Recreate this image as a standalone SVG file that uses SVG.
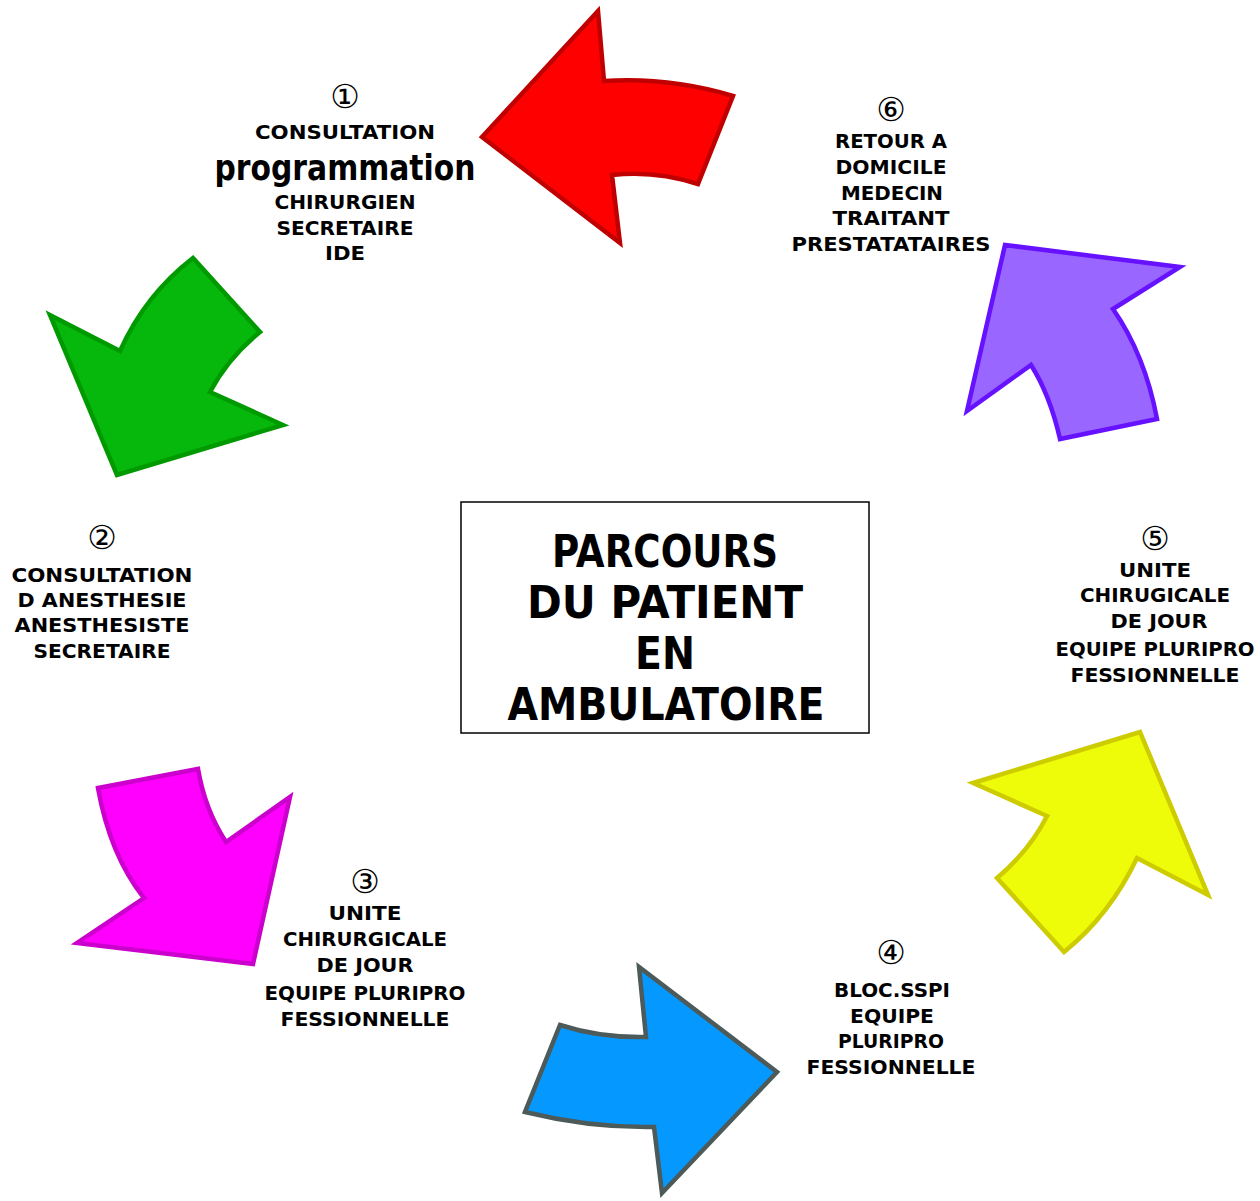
<svg xmlns="http://www.w3.org/2000/svg" width="1260" height="1201" viewBox="0 0 1260 1201">
<style>
.t{font-family:"DejaVu Sans","Liberation Sans",sans-serif;font-weight:bold;font-size:20px;fill:#000;text-anchor:middle}
.n{font-family:"DejaVu Sans",sans-serif;font-size:33px;fill:#000;text-anchor:middle}
.c{font-family:"DejaVu Sans","Liberation Sans",sans-serif;font-weight:bold;font-size:45px;fill:#000;text-anchor:middle}
.p{font-family:"DejaVu Sans","Liberation Sans",sans-serif;font-weight:bold;font-size:35px;fill:#000;text-anchor:middle}
.a{stroke-width:4.5;stroke-linejoin:miter;stroke-miterlimit:6}
</style>
<rect width="1260" height="1201" fill="#fff"/>
<g id="connectors">
<path id="arrow-red" class="a" fill="#ff0000" stroke="#c00000" d="M482,137 L598,11 L604,81 Q670,77 733,96 L698,184 Q655,170 612,175 L620,243 Z"/>
<path id="arrow-green" class="a" fill="#05b80b" stroke="#009900" d="M193,258 L260,332 Q228,358 210,392 L283,425 L117,475 L50,315 L120,351 Q145,295 193,258 Z"/>
<path id="arrow-magenta" class="a" fill="#ff00ff" stroke="#cc00cc" d="M98,788 L198,769 Q205,810 226,842 L290,797 L253,964 L77,943 L144,898 Q110,855 98,788 Z"/>
<path id="arrow-blue" class="a" fill="#0599ff" stroke="#4d5a5a" d="M560,1025 Q600,1038 646,1037 L639,967 L777,1072 L662,1193 L654,1127 Q590,1128 525,1112 Z"/>
<path id="arrow-yellow" class="a" fill="#eefc0a" stroke="#cccc00" d="M973,783 L1140,732 L1208,895 L1137,858 Q1110,915 1064,952 L997,878 Q1030,850 1047,816 Z"/>
<path id="arrow-purple" class="a" fill="#9966ff" stroke="#6611ff" d="M1005,245 L1180,267 L1113,309 Q1145,355 1157,419 L1060,439 Q1050,395 1031,365 L967,411 Z"/>
</g>
<g id="center">
<rect x="461" y="502" width="408" height="231" fill="#fff" stroke="#000" stroke-width="1.5"/>
<text class="c" x="665" y="567" textLength="226" lengthAdjust="spacingAndGlyphs">PARCOURS</text>
<text class="c" x="665" y="618" textLength="276" lengthAdjust="spacingAndGlyphs">DU PATIENT</text>
<text class="c" x="665" y="669" textLength="60" lengthAdjust="spacingAndGlyphs">EN</text>
<text class="c" x="666" y="720" textLength="317" lengthAdjust="spacingAndGlyphs">AMBULATOIRE</text>
</g>
<g id="step1">
<text class="n" x="345" y="108">①</text>
<text class="t" x="345" y="139" textLength="180" lengthAdjust="spacingAndGlyphs">CONSULTATION</text>
<text class="p" x="345" y="180" textLength="261" lengthAdjust="spacingAndGlyphs">programmation</text>
<text class="t" x="345" y="209" textLength="141" lengthAdjust="spacingAndGlyphs">CHIRURGIEN</text>
<text class="t" x="345" y="235" textLength="137" lengthAdjust="spacingAndGlyphs">SECRETAIRE</text>
<text class="t" x="345" y="260" textLength="40" lengthAdjust="spacingAndGlyphs">IDE</text>
</g>
<g id="step2">
<text class="n" x="102" y="549">②</text>
<text class="t" x="102" y="582" textLength="181" lengthAdjust="spacingAndGlyphs">CONSULTATION</text>
<text class="t" x="102" y="607" textLength="169" lengthAdjust="spacingAndGlyphs">D ANESTHESIE</text>
<text class="t" x="102" y="632" textLength="175" lengthAdjust="spacingAndGlyphs">ANESTHESISTE</text>
<text class="t" x="102" y="658" textLength="137" lengthAdjust="spacingAndGlyphs">SECRETAIRE</text>
</g>
<g id="step3">
<text class="n" x="365" y="893">③</text>
<text class="t" x="365" y="920" textLength="73" lengthAdjust="spacingAndGlyphs">UNITE</text>
<text class="t" x="365" y="946" textLength="164" lengthAdjust="spacingAndGlyphs">CHIRURGICALE</text>
<text class="t" x="365" y="972" textLength="97" lengthAdjust="spacingAndGlyphs">DE JOUR</text>
<text class="t" x="365" y="1000" textLength="201" lengthAdjust="spacingAndGlyphs">EQUIPE PLURIPRO</text>
<text class="t" x="365" y="1026" textLength="169" lengthAdjust="spacingAndGlyphs">FESSIONNELLE</text>
</g>
<g id="step4">
<text class="n" x="891" y="964">④</text>
<text class="t" x="892" y="997" textLength="116" lengthAdjust="spacingAndGlyphs">BLOC.SSPI</text>
<text class="t" x="892" y="1023" textLength="84" lengthAdjust="spacingAndGlyphs">EQUIPE</text>
<text class="t" x="891" y="1048" textLength="106" lengthAdjust="spacingAndGlyphs">PLURIPRO</text>
<text class="t" x="891" y="1074" textLength="169" lengthAdjust="spacingAndGlyphs">FESSIONNELLE</text>
</g>
<g id="step5">
<text class="n" x="1155" y="550">⑤</text>
<text class="t" x="1155" y="577" textLength="72" lengthAdjust="spacingAndGlyphs">UNITE</text>
<text class="t" x="1155" y="602" textLength="150" lengthAdjust="spacingAndGlyphs">CHIRUGICALE</text>
<text class="t" x="1159" y="628" textLength="97" lengthAdjust="spacingAndGlyphs">DE JOUR</text>
<text class="t" x="1155" y="656" textLength="199" lengthAdjust="spacingAndGlyphs">EQUIPE PLURIPRO</text>
<text class="t" x="1155" y="682" textLength="169" lengthAdjust="spacingAndGlyphs">FESSIONNELLE</text>
</g>
<g id="step6">
<text class="n" x="891" y="121">⑥</text>
<text class="t" x="891" y="148" textLength="112" lengthAdjust="spacingAndGlyphs">RETOUR A</text>
<text class="t" x="891" y="174" textLength="111" lengthAdjust="spacingAndGlyphs">DOMICILE</text>
<text class="t" x="892" y="200" textLength="102" lengthAdjust="spacingAndGlyphs">MEDECIN</text>
<text class="t" x="891" y="225" textLength="117" lengthAdjust="spacingAndGlyphs">TRAITANT</text>
<text class="t" x="891" y="251" textLength="199" lengthAdjust="spacingAndGlyphs">PRESTATATAIRES</text>
</g>
</svg>
